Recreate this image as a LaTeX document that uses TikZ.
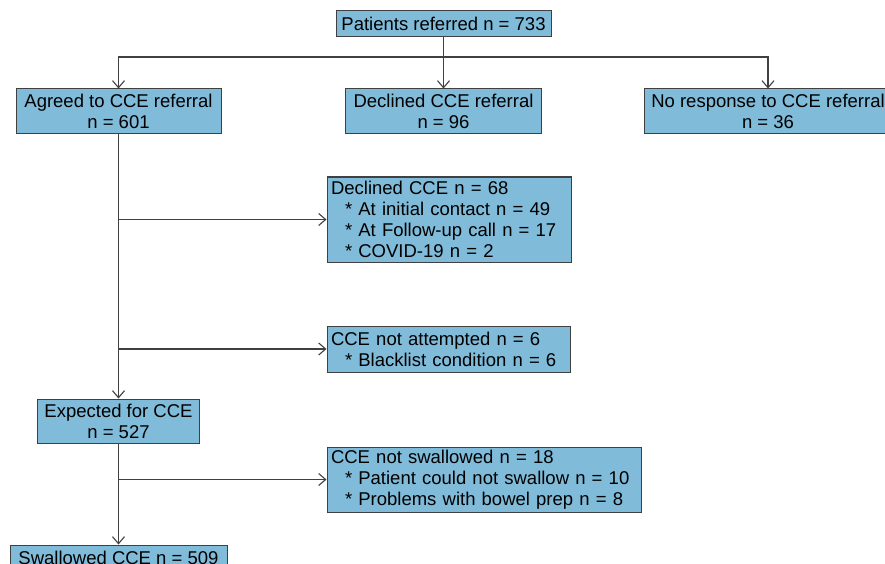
\documentclass[tikz,border=0pt]{standalone}
\usepackage{fontspec}
\setmainfont{Liberation Sans}
\usetikzlibrary{arrows.meta}

\definecolor{boxblue}{RGB}{128,187,217}
\definecolor{edgegray}{RGB}{64,64,64}

\tikzset{
  box/.style={draw=edgegray, fill=boxblue, line width=1pt, inner xsep=4pt, inner ysep=0pt,
    font=\fontsize{18.5}{21}\selectfont},
  cbox/.style={box, align=center},
  lbox/.style={box, align=left},
  link/.style={draw=edgegray, line width=1.1pt},
  flow/.style={link, -{Straight Barb[length=7pt,width=12pt]}},
}

\begin{document}
\begin{tikzpicture}[x=1pt,y=-1pt]
            \path[use as bounding box, clip] (0,0) rectangle (885,564);

            % Nodes

            \node[cbox, minimum width=215pt, minimum height=26pt] (ref) at (443.5,24) {Patients referred n = 733};
            \node[cbox, minimum width=205pt, minimum height=45pt] (agreed) at (118.5,111.5) {Agreed to CCE referral\\n = 601};
            \node[cbox, minimum width=196pt, minimum height=45pt] (declref) at (443.5,111.5) {Declined CCE referral\\n = 96};
            \node[cbox, minimum width=248pt, minimum height=45pt] (noresp) at (768,111.5) {No response to CCE referral\\n = 36};
            \node[lbox, text width=236pt, minimum height=85pt] (declcce) at (449,219.5) {Declined CCE n = 68\\
              \hspace*{14pt}* At initial contact n = 49\\
              \hspace*{14pt}* At Follow-up call n = 17\\
              \hspace*{14pt}* COVID-19 n = 2};
            \node[lbox, text width=235pt, minimum height=46pt] (notatt) at (448.5,349) {CCE not attempted n = 6\\
              \hspace*{14pt}* Blacklist condition n = 6};
            \node[cbox, minimum width=162pt, minimum height=44pt] (expected) at (118.5,421) {Expected for CCE\\n = 527};
            \node[lbox, text width=306pt, minimum height=65pt] (notswal) at (484,479.5) {CCE not swallowed n = 18\\
              \hspace*{14pt}* Patient could not swallow n = 10\\
              \hspace*{14pt}* Problems with bowel prep n = 8};
            \node[cbox, minimum width=217pt, minimum height=26pt] (swallowed) at (118.5,558) {Swallowed CCE n = 509};

            % Edges

            \coordinate (split) at (443.5,57);
            \coordinate (b1) at (agreed.south |- declcce.west);
            \coordinate (b2) at (agreed.south |- notatt.west);
            \coordinate (b3) at (expected.south |- notswal.west);

            \draw[link] (ref) -- (split);
            \draw[flow] (split) -| (agreed);
            \draw[flow] (split) -- (declref);
            \draw[flow] (split) -| (noresp);
            \draw[flow] (agreed) -- (expected);
            \draw[flow] (b1) -- (declcce);
            \draw[flow] (b2) -- (notatt);
            \draw[flow] (expected) -- (swallowed);
            \draw[flow] (b3) -- (notswal);

\end{tikzpicture}
\end{document}
